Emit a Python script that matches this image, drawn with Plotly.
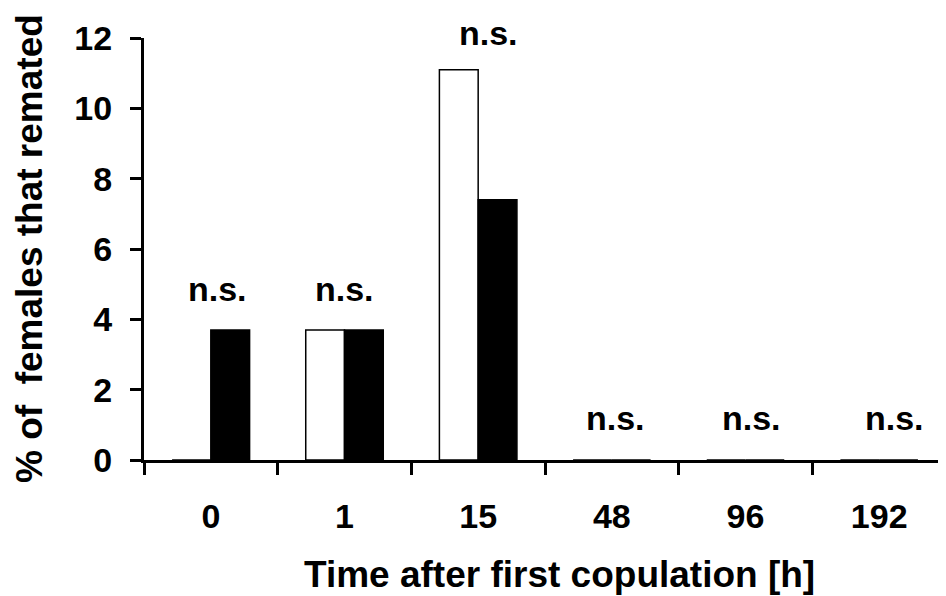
import plotly.graph_objects as go

categories = ["0", "1", "15", "48", "96", "192"]
open_bars = [0, 3.7, 11.1, 0, 0, 0]
filled_bars = [3.7, 3.7, 7.4, 0, 0, 0]
sig_labels = ["n.s.", "n.s.", "n.s.", "n.s.", "n.s.", "n.s."]
sig_y = [4.46, 4.46, 11.74, 0.80, 0.80, 0.80]
sig_xshift = [7, 0, 10, 4, 6, 15]
y_ticks = [0, 2, 4, 6, 8, 10, 12]

FONT = "Liberation Sans"
x_pos = list(range(len(categories)))
boundaries = [p - 0.5 for p in x_pos] + [x_pos[-1] + 0.5]

# page body has an 8px default margin; figure sized to fill the rest of the window
W, H = 938, 588
L, T, B, R = 136, 30, 136, 0
PW = W - L - R
PH = H - T - B

fig = go.Figure()
fig.add_trace(go.Bar(x=x_pos, y=open_bars, marker=dict(color="white", line=dict(color="black", width=1.5)), showlegend=False))
fig.add_trace(go.Bar(x=x_pos, y=filled_bars, marker=dict(color="black", line=dict(color="black", width=1.5)), showlegend=False))

for p, t, yv, xs in zip(x_pos, sig_labels, sig_y, sig_xshift):
    fig.add_annotation(x=p, y=yv, text=t, showarrow=False, xshift=xs, yanchor="bottom", yshift=-7,
                       font=dict(family=FONT, size=34, color="black", weight="bold"))

fig.add_annotation(xref="paper", yref="paper", x=(559 - 144) / PW, y=-92 / PH, yanchor="top",
                   text="Time after first copulation [h]", showarrow=False,
                   font=dict(family=FONT, size=37, color="black", weight="bold"))
fig.add_annotation(xref="paper", yref="paper", x=-(144 - 29) / PW, y=0.5, xanchor="center",
                   text="% of  females that remated", textangle=-90, showarrow=False,
                   font=dict(family=FONT, size=37, color="black", weight="bold"))

fig.update_layout(
    width=W, height=H,
    margin=dict(l=L, r=R, t=T, b=B),
    paper_bgcolor="white", plot_bgcolor="white",
    barmode="group", bargap=0.42, bargroupgap=0,
    showlegend=False,
)
fig.update_xaxes(range=[-0.5, 5.5], tickvals=x_pos, ticktext=categories, showline=True, linecolor="black", linewidth=3,
                 ticks="", showgrid=False, zeroline=False, ticklabelstandoff=24, automargin=False,
                 minor=dict(tickvals=boundaries, ticks="outside", ticklen=12, tickwidth=3, tickcolor="black", showgrid=False),
                 tickfont=dict(family=FONT, size=34, color="black", weight="bold"))
fig.update_yaxes(range=[0, 12], tickvals=y_ticks, showline=True, linecolor="black", linewidth=3,
                 ticks="outside", ticklen=11, tickwidth=3, tickcolor="black", automargin=False,
                 showgrid=False, zeroline=False, ticklabelstandoff=11,
                 tickfont=dict(family=FONT, size=34, color="black", weight="bold"))

fig.write_html("out.html")
